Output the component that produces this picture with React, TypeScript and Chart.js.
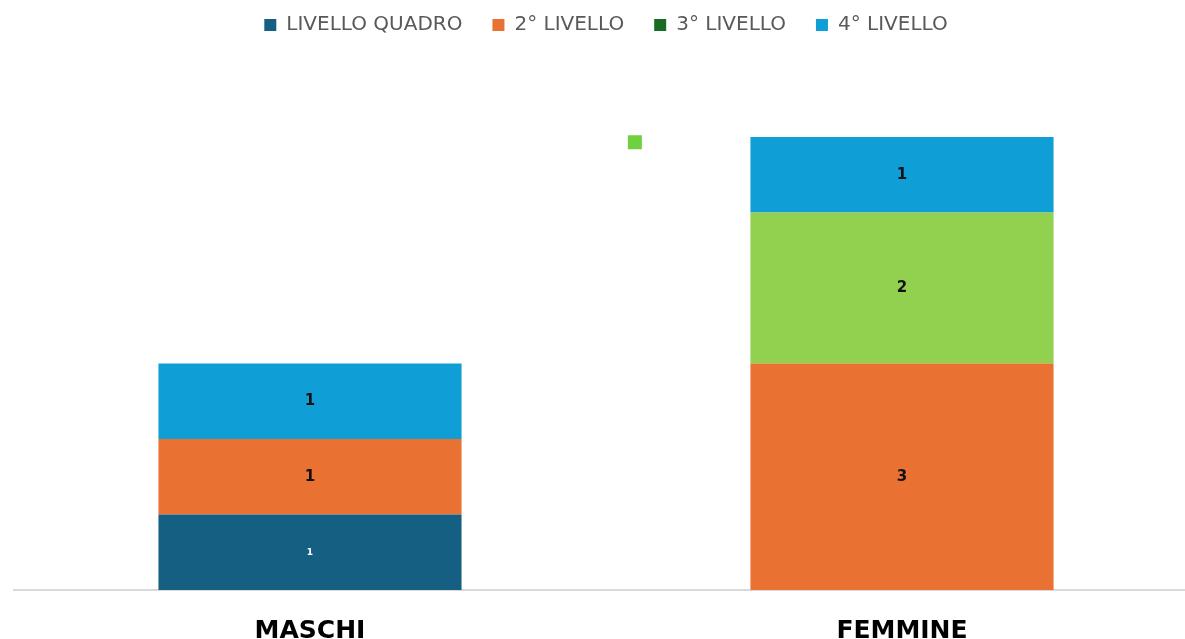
import React, { useEffect, useRef } from 'react';
import { Chart, registerables } from 'chart.js';

Chart.register(...registerables);

const categories = ['MASCHI', 'FEMMINE'];
const seriesNames = ['LIVELLO QUADRO', '2° LIVELLO', '3° LIVELLO', '4° LIVELLO'];
const livelloQuadro = [1, null];
const livello2 = [1, 3];
const livello3 = [null, 2];
const livello4 = [1, 1];
const strayMarker = [{ x: 0.561, y: 5.93 }];

const seriesColors = ['#156082', '#E97132', ['#196B24', '#92D050'], '#0F9ED5'];
const labelColors = ['#ffffff', '#111111', '#111111', '#111111'];
const labelSizes = [9, 15, 15, 15];

const valueLabels = {
  id: 'valueLabels',
  afterDatasetsDraw(chart: any) {
    const ctx = chart.ctx;
    chart.data.datasets.forEach((ds: any, i: number) => {
      if (ds.type === 'scatter') return;
      const meta = chart.getDatasetMeta(i);
      if (meta.hidden) return;
      meta.data.forEach((bar: any, j: number) => {
        const v = ds.data[j];
        if (v == null) return;
        const { x, y, base } = bar.getProps(['x', 'y', 'base'], true);
        ctx.save();
        ctx.fillStyle = labelColors[i];
        ctx.font = `bold ${labelSizes[i]}px "DejaVu Sans"`;
        ctx.textAlign = 'center';
        ctx.textBaseline = 'middle';
        ctx.fillText(String(v), x, (y + base) / 2);
        ctx.restore();
      });
    });
  },
};

export default function App() {
  const ref = useRef<HTMLCanvasElement>(null);
  useEffect(() => {
    document.body.style.margin = '0';
    document.body.style.overflow = 'hidden';
    document.documentElement.style.overflow = 'hidden';
    const data = [livelloQuadro, livello2, livello3, livello4];
    const chart = new Chart(ref.current as HTMLCanvasElement, {
      type: 'bar',
      data: {
        labels: categories,
        datasets: [
          ...seriesNames.map((name, i) => ({
            type: 'bar' as const,
            label: name,
            data: data[i] as any,
            xAxisID: 'x',
            yAxisID: 'y',
            stack: 'all',
            grouped: false,
            backgroundColor: seriesColors[i] as any,
            borderWidth: 0,
            categoryPercentage: 1,
            barPercentage: 0.512,
          })),
          {
            type: 'scatter' as const,
            label: 'marker',
            data: strayMarker as any,
            xAxisID: 'x2',
            yAxisID: 'y',
            backgroundColor: '#6FD040',
            borderWidth: 0,
            pointStyle: 'rect',
            pointRadius: 9.9,
            showLine: false,
          } as any,
        ],
      },
      options: {
        animation: false,
        responsive: true,
        maintainAspectRatio: false,
        layout: { autoPadding: false, padding: { top: -15, bottom: -33, left: 14, right: 0 } },
        plugins: {
          tooltip: { enabled: false },
          title: {
            display: true,
            text: '',
            font: { size: 10, lineHeight: 1 },
            padding: { top: 0, bottom: 6.5 },
          },
          legend: {
            position: 'top',
            weight: 3000,
            labels: {
              filter: (item: any) => item.datasetIndex < 4,
              font: { family: '"DejaVu Sans"', size: 20 },
              color: '#595959',
              boxWidth: 12,
              boxHeight: 12,
              padding: 30,
            },
          } as any,
        },
        scales: {
          x: {
            stacked: true,
            grid: { display: false, drawTicks: false },
            border: { display: true, color: '#d9d9d9', width: 2 },
            ticks: {
              color: '#000000',
              font: { family: '"DejaVu Sans"', size: 25, weight: 'bold', lineHeight: 1.2 },
              padding: 26,
            },
          },
          x2: {
            type: 'linear',
            display: false,
            min: -0.5,
            max: 1.5,
          },
          y: {
            stacked: true,
            display: false,
            min: 0,
            max: 7,
          },
        } as any,
      },
      plugins: [valueLabels],
    });
    return () => chart.destroy();
  }, []);
  return (
    <div style={{ width: 1198, height: 639, position: 'relative' }}>
      <canvas ref={ref} style={{ display: 'block' }} />
    </div>
  );
}
